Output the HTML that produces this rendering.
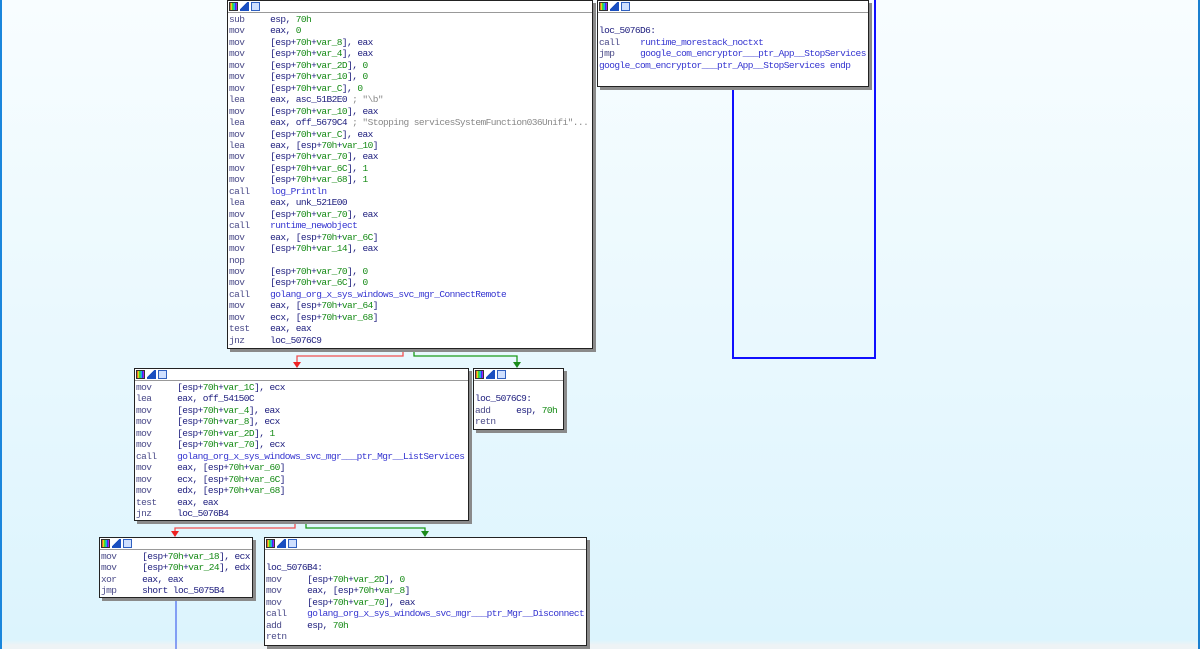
<!DOCTYPE html>
<html><head><meta charset="utf-8"><style>
html,body{margin:0;padding:0}
body{width:1200px;height:649px;overflow:hidden;position:relative;background:linear-gradient(#f8fdff,#dcf4fd 640px,#eef3f5 645px);font-family:"Liberation Mono",monospace;}
.frame{position:absolute;left:0;top:0;width:1196px;height:649px;border-left:2px solid #1a86dc;border-right:2px solid #1a7fd0}
.b{position:absolute;background:#fff;border:1px solid #222;box-shadow:3px 3px 0 #8a8a8a;font-size:9.5px;letter-spacing:-0.57px;line-height:11.46px;white-space:pre;color:#20207f}
.h{height:11px;border-bottom:1px solid #999;position:relative}
.h i{position:absolute;top:1px;width:9px;height:9px}
.h i:nth-child(1){left:1px;background:linear-gradient(90deg,#e22,#ee2,#2c2,#2ce,#22e,#e2e);border:1px solid #333;width:7px;height:7px}
.h i:nth-child(2){left:12px;background:linear-gradient(135deg,#fff 40%,#1a4fc0 41%);}
.h i:nth-child(3){left:23px;background:#cfe0ff;border:1px solid #3060c0;width:7px;height:7px}
.t{padding:1px 0 0 1px}
.m{color:#4a4a88}.g{color:#158a15}.c{color:#888}.f{color:#3434d0}
svg{position:absolute;left:0;top:0}
</style></head><body>
<div class="frame"></div>
<svg width="1200" height="649">
<g fill="none" stroke-width="1.3">
<line x1="404" y1="0" x2="404" y2="1" stroke="#e22"/>
<line x1="733" y1="0" x2="733" y2="1" stroke="#1a9a1a"/>
<path d="M403 348V356H297V366" stroke="#f05050"/>
<path d="M414 348V356H517V366" stroke="#1a9a1a"/>
<path d="M295 520V528H175V535" stroke="#f05050"/>
<path d="M306 520V528H425V535" stroke="#1a9a1a"/>
<path d="M733 86V358H875V0" stroke="#1010ff" stroke-width="2"/>
<path d="M176 597V649" stroke="#5070f0"/>
</g>
<g>
<path d="M293 362h8l-4 6z" fill="#e22"/>
<path d="M513 362h8l-4 6z" fill="#1a8a1a"/>
<path d="M171 531h8l-4 6z" fill="#e22"/>
<path d="M421 531h8l-4 6z" fill="#1a8a1a"/>
</g>
</svg>

<div class="b" style="left:227px;top:0;width:364px;height:347px"><div class="h"><i></i><i></i><i></i></div><div class="t"><span class="m">sub     </span>esp, <span class="g">70h</span>
<span class="m">mov     </span>eax, <span class="g">0</span>
<span class="m">mov     </span>[esp+<span class="g">70h</span>+<span class="g">var_8</span>], eax
<span class="m">mov     </span>[esp+<span class="g">70h</span>+<span class="g">var_4</span>], eax
<span class="m">mov     </span>[esp+<span class="g">70h</span>+<span class="g">var_2D</span>], <span class="g">0</span>
<span class="m">mov     </span>[esp+<span class="g">70h</span>+<span class="g">var_10</span>], <span class="g">0</span>
<span class="m">mov     </span>[esp+<span class="g">70h</span>+<span class="g">var_C</span>], <span class="g">0</span>
<span class="m">lea     </span>eax, asc_51B2E0 <span class="c">; "\b"</span>
<span class="m">mov     </span>[esp+<span class="g">70h</span>+<span class="g">var_10</span>], eax
<span class="m">lea     </span>eax, off_5679C4 <span class="c">; "Stopping servicesSystemFunction036Unifi"...</span>
<span class="m">mov     </span>[esp+<span class="g">70h</span>+<span class="g">var_C</span>], eax
<span class="m">lea     </span>eax, [esp+<span class="g">70h</span>+<span class="g">var_10</span>]
<span class="m">mov     </span>[esp+<span class="g">70h</span>+<span class="g">var_70</span>], eax
<span class="m">mov     </span>[esp+<span class="g">70h</span>+<span class="g">var_6C</span>], <span class="g">1</span>
<span class="m">mov     </span>[esp+<span class="g">70h</span>+<span class="g">var_68</span>], <span class="g">1</span>
<span class="m">call    </span><span class="f">log_Println</span>
<span class="m">lea     </span>eax, unk_521E00
<span class="m">mov     </span>[esp+<span class="g">70h</span>+<span class="g">var_70</span>], eax
<span class="m">call    </span><span class="f">runtime_newobject</span>
<span class="m">mov     </span>eax, [esp+<span class="g">70h</span>+<span class="g">var_6C</span>]
<span class="m">mov     </span>[esp+<span class="g">70h</span>+<span class="g">var_14</span>], eax
<span class="m">nop</span>
<span class="m">mov     </span>[esp+<span class="g">70h</span>+<span class="g">var_70</span>], <span class="g">0</span>
<span class="m">mov     </span>[esp+<span class="g">70h</span>+<span class="g">var_6C</span>], <span class="g">0</span>
<span class="m">call    </span><span class="f">golang_org_x_sys_windows_svc_mgr_ConnectRemote</span>
<span class="m">mov     </span>eax, [esp+<span class="g">70h</span>+<span class="g">var_64</span>]
<span class="m">mov     </span>ecx, [esp+<span class="g">70h</span>+<span class="g">var_68</span>]
<span class="m">test    </span>eax, eax
<span class="m">jnz     </span>loc_5076C9</div></div>

<div class="b" style="left:597px;top:0;width:270px;height:85px"><div class="h"><i></i><i></i><i></i></div><div class="t">
loc_5076D6:
<span class="m">call    </span><span class="f">runtime_morestack_noctxt</span>
<span class="m">jmp     </span><span class="f">google_com_encryptor___ptr_App__StopServices</span>
<span class="f">google_com_encryptor___ptr_App__StopServices endp</span></div></div>

<div class="b" style="left:134px;top:368px;width:333px;height:151px"><div class="h"><i></i><i></i><i></i></div><div class="t"><span class="m">mov     </span>[esp+<span class="g">70h</span>+<span class="g">var_1C</span>], ecx
<span class="m">lea     </span>eax, off_54150C
<span class="m">mov     </span>[esp+<span class="g">70h</span>+<span class="g">var_4</span>], eax
<span class="m">mov     </span>[esp+<span class="g">70h</span>+<span class="g">var_8</span>], ecx
<span class="m">mov     </span>[esp+<span class="g">70h</span>+<span class="g">var_2D</span>], <span class="g">1</span>
<span class="m">mov     </span>[esp+<span class="g">70h</span>+<span class="g">var_70</span>], ecx
<span class="m">call    </span><span class="f">golang_org_x_sys_windows_svc_mgr___ptr_Mgr__ListServices</span>
<span class="m">mov     </span>eax, [esp+<span class="g">70h</span>+<span class="g">var_60</span>]
<span class="m">mov     </span>ecx, [esp+<span class="g">70h</span>+<span class="g">var_6C</span>]
<span class="m">mov     </span>edx, [esp+<span class="g">70h</span>+<span class="g">var_68</span>]
<span class="m">test    </span>eax, eax
<span class="m">jnz     </span>loc_5076B4</div></div>

<div class="b" style="left:473px;top:368px;width:89px;height:60px"><div class="h"><i></i><i></i><i></i></div><div class="t">
loc_5076C9:
<span class="m">add     </span>esp, <span class="g">70h</span>
<span class="m">retn</span></div></div>

<div class="b" style="left:99px;top:537px;width:152px;height:59px;overflow:hidden"><div class="h"><i></i><i></i><i></i></div><div class="t"><span class="m">mov     </span>[esp+<span class="g">70h</span>+<span class="g">var_18</span>], ecx
<span class="m">mov     </span>[esp+<span class="g">70h</span>+<span class="g">var_24</span>], edx
<span class="m">xor     </span>eax, eax
<span class="m">jmp     </span>short loc_5075B4</div></div>

<div class="b" style="left:264px;top:537px;width:321px;height:107px"><div class="h"><i></i><i></i><i></i></div><div class="t">
loc_5076B4:
<span class="m">mov     </span>[esp+<span class="g">70h</span>+<span class="g">var_2D</span>], <span class="g">0</span>
<span class="m">mov     </span>eax, [esp+<span class="g">70h</span>+<span class="g">var_8</span>]
<span class="m">mov     </span>[esp+<span class="g">70h</span>+<span class="g">var_70</span>], eax
<span class="m">call    </span><span class="f">golang_org_x_sys_windows_svc_mgr___ptr_Mgr__Disconnect</span>
<span class="m">add     </span>esp, <span class="g">70h</span>
<span class="m">retn</span></div></div>
</body></html>
